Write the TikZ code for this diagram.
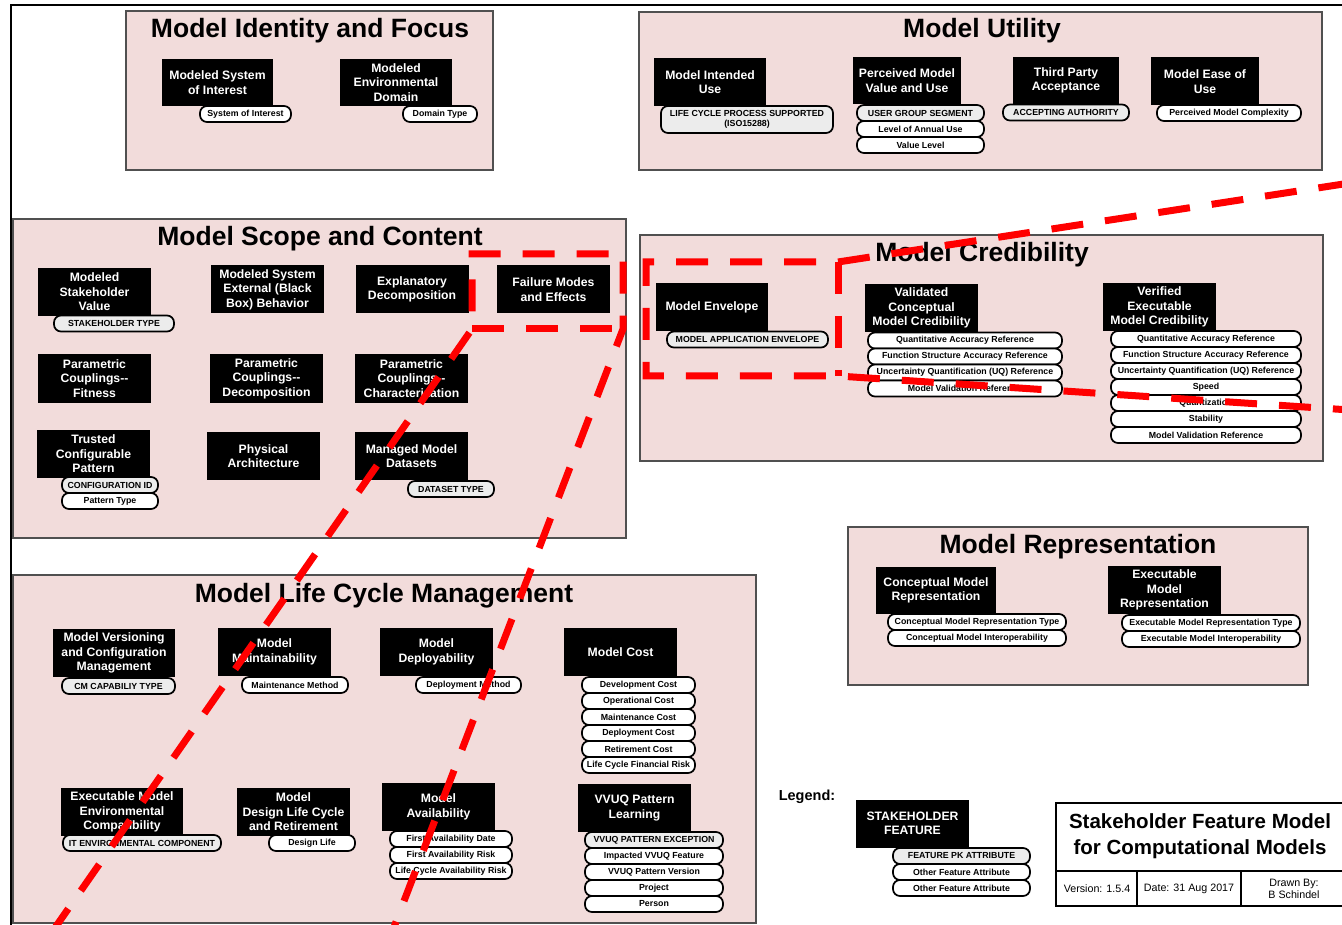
\documentclass[tikz,border=0pt]{standalone}
\usepackage{fontspec}
\setmainfont{Liberation Sans}
\usepackage{tikz}
\usepackage{color}

\definecolor{panelpink}{RGB}{242,220,219}
\definecolor{panelline}{RGB}{80,80,80}
\definecolor{pkgray}{RGB}{236,236,236}

\begin{document}
\begin{tikzpicture}[x=1pt,y=-1pt,
  panel/.style={fill=panelpink,draw=panelline,line width=1.1pt},
  ptitle/.style={font=\bfseries\fontsize{26.5}{28}\selectfont,inner sep=0pt},
  feat/.style={fill=black,text=white,align=center,inner sep=1pt,
    minimum width=113pt,minimum height=48pt,
    font=\bfseries\fontsize{12.2}{14.5}\selectfont},
  attr/.style={draw=black,fill=white,line width=1.7pt,rounded corners=7pt,
    align=center,inner xsep=2pt,inner ysep=0pt,minimum height=16pt,
    font=\bfseries\fontsize{8.8}{10}\selectfont},
  pkattr/.style={attr,fill=pkgray},
  zoomline/.style={red,line width=7pt,dash pattern=on 32pt off 22pt},
  tbtext/.style={font=\fontsize{10.7}{12}\selectfont,align=center,inner sep=0pt}]
\useasboundingbox (0,0) rectangle (1342,925);
\draw[line width=1.6pt] (11,935)--(11,5)--(1350,5);

% Model Identity and Focus
\draw[panel] (126,11) rectangle (493,170);
\node[ptitle] (tid) at (310,31) {Model Identity and Focus};
\node[feat,minimum width=111pt,minimum height=47pt] (soi) at (217.5,82.5) {Modeled System\\of Interest};
\node[attr,minimum width=91pt] (soia) at (245.5,114) {System of Interest};
\node[feat,minimum width=112pt,minimum height=47pt] (env) at (396,82.5) {Modeled\\Environmental\\Domain};
\node[attr,minimum width=74pt] (enva) at (440,114) {Domain Type};

% Model Utility
\draw[panel] (639,12) rectangle (1322,170);
\node[ptitle] (tut) at (982,31) {Model Utility};
\node[feat,minimum width=112pt] (use) at (710,82) {Model Intended\\Use};
\node[pkattr,minimum width=172pt,minimum height=27pt] (usea) at (747,119.5) {LIFE CYCLE PROCESS SUPPORTED\\(ISO15288)};
\node[feat,minimum width=108pt,minimum height=47pt] (val) at (907,80.5) {Perceived Model\\Value and Use};
\node[pkattr,minimum width=127pt] (vala) at (920.5,113) {USER GROUP SEGMENT};
\node[attr,minimum width=127pt] (valb) at (920.5,129) {Level of Annual Use};
\node[attr,minimum width=127pt] (valc) at (920.5,145) {Value Level};
\node[feat,minimum width=106pt,minimum height=47pt] (tpa) at (1066,80.5) {Third Party\\Acceptance};
\node[pkattr,minimum width=126pt] (tpaa) at (1066,112.5) {ACCEPTING AUTHORITY};
\node[feat,minimum width=108pt] (ease) at (1205,81.5) {Model Ease of\\Use};
\node[attr,minimum width=144pt] (easea) at (1229,113) {Perceived Model Complexity};

% Model Scope and Content
\draw[panel] (13,219) rectangle (626,538);
\node[ptitle] (tsc) at (320,239) {Model Scope and Content};
\node[feat] (msv) at (94.5,292) {Modeled\\Stakeholder\\Value};
\node[pkattr,minimum width=120pt] (msva) at (114,323.5) {STAKEHOLDER TYPE};
\node[feat] (ext) at (267.5,289.5) {Modeled System\\External (Black\\Box) Behavior};
\node[feat] (expl) at (412,289.5) {Explanatory\\Decomposition};
\node[feat] (fme) at (553.5,289.5) {Failure Modes\\and Effects};
\node[feat] (pcf) at (94.5,378.5) {Parametric\\Couplings-{}-\\Fitness};
\node[feat] (pcd) at (266.5,378.5) {Parametric\\Couplings-{}-\\Decomposition};
\node[feat] (pcc) at (411.5,378.5) {Parametric\\Couplings-{}-\\Characterization};
\node[feat] (tcp) at (93.5,454) {Trusted\\Configurable\\Pattern};
\node[pkattr,minimum width=96pt] (tcpa) at (110,485) {CONFIGURATION ID};
\node[attr,minimum width=96pt] (tcpb) at (110,501) {Pattern Type};
\node[feat] (phy) at (263.5,456) {Physical\\Architecture};
\node[feat] (mmd) at (411.5,456) {Managed Model\\Datasets};
\node[pkattr,minimum width=86pt] (mmda) at (451,489) {DATASET TYPE};

% Model Credibility
\draw[panel] (640,235) rectangle (1323,461);
\node[ptitle] (tcr) at (982,255) {Model Credibility};
\node[feat,minimum width=112pt] (menv) at (712,307) {Model Envelope};
\node[pkattr,minimum width=161pt] (menva) at (747.5,339.5) {MODEL APPLICATION ENVELOPE};
\node[feat] (vcm) at (921.5,308) {Validated\\Conceptual\\Model Credibility};
\node[attr,minimum width=194pt] (vcma) at (965,340.5) {Quantitative Accuracy Reference};
\node[attr,minimum width=194pt] (vcmb) at (965,356.5) {Function Structure Accuracy Reference};
\node[attr,minimum width=194pt] (vcmc) at (965,372.5) {Uncertainty Quantification (UQ) Reference};
\node[attr,minimum width=194pt] (vcmd) at (965,388.5) {Model Validation Reference};
\node[feat] (vem) at (1159.5,307) {Verified\\Executable\\Model Credibility};
\node[attr,minimum width=190pt] (vema) at (1206,339) {Quantitative Accuracy Reference};
\node[attr,minimum width=190pt] (vemb) at (1206,355) {Function Structure Accuracy Reference};
\node[attr,minimum width=190pt] (vemc) at (1206,371) {Uncertainty Quantification (UQ) Reference};
\node[attr,minimum width=190pt] (vemd) at (1206,387) {Speed};
\node[attr,minimum width=190pt] (veme) at (1206,403) {Quantization};
\node[attr,minimum width=190pt] (vemf) at (1206,419) {Stability};
\node[attr,minimum width=190pt] (vemg) at (1206,435) {Model Validation Reference};

% Model Representation
\draw[panel] (848,527) rectangle (1308,685);
\node[ptitle] (trep) at (1078,547) {Model Representation};
\node[feat,minimum width=120pt,minimum height=47pt] (cmr) at (936,590.5) {Conceptual Model\\Representation};
\node[attr,minimum width=178pt] (cmra) at (977,622) {Conceptual Model Representation Type};
\node[attr,minimum width=178pt] (cmrb) at (977,638) {Conceptual Model Interoperability};
\node[feat] (emr) at (1164.5,590) {Executable\\Model\\Representation};
\node[attr,minimum width=178pt] (emra) at (1211,623) {Executable Model Representation Type};
\node[attr,minimum width=178pt] (emrb) at (1211,639) {Executable Model Interoperability};

% Model Life Cycle Management
\draw[panel] (13,575) rectangle (756,923);
\node[ptitle] (tlc) at (384,596) {Model Life Cycle Management};
\node[feat,minimum width=122pt] (mvc) at (114,653) {Model Versioning\\and Configuration\\Management};
\node[pkattr,minimum width=113pt] (mvca) at (118.5,686) {CM CAPABILIY TYPE};
\node[feat] (mmt) at (274.5,652) {Model\\Maintainability};
\node[attr,minimum width=106pt] (mmta) at (295,685) {Maintenance Method};
\node[feat] (mdp) at (436.5,652) {Model\\Deployability};
\node[attr,minimum width=105pt] (mdpa) at (468.5,685) {Deployment Method};
\node[feat] (mco) at (620.5,652) {Model Cost};
\node[attr,minimum width=113pt] (mcoa) at (638.5,685) {Development Cost};
\node[attr,minimum width=113pt] (mcob) at (638.5,701) {Operational Cost};
\node[attr,minimum width=113pt] (mcoc) at (638.5,717) {Maintenance Cost};
\node[attr,minimum width=113pt] (mcod) at (638.5,733) {Deployment Cost};
\node[attr,minimum width=113pt] (mcoe) at (638.5,749) {Retirement Cost};
\node[attr,minimum width=113pt] (mcof) at (638.5,765) {Life Cycle Financial Risk};
\node[feat,minimum width=122pt] (eec) at (122,812) {Executable Model\\Environmental\\Compatibility};
\node[pkattr,minimum width=158pt] (eeca) at (142,843) {IT ENVIRONMENTAL COMPONENT};
\node[feat] (dlc) at (293.5,812) {Model\\Design Life Cycle\\and Retirement};
\node[attr,minimum width=86pt] (dlca) at (312,843) {Design Life};
\node[feat] (mav) at (438.5,807) {Model\\Availability};
\node[attr,minimum width=122pt] (mava) at (451,839) {First Availability Date};
\node[attr,minimum width=122pt] (mavb) at (451,855) {First Availability Risk};
\node[attr,minimum width=122pt] (mavc) at (451,871) {Life Cycle Availability Risk};
\node[feat] (vvl) at (634.5,808) {VVUQ Pattern\\Learning};
\node[pkattr,minimum width=138pt] (vvla) at (654,840) {VVUQ PATTERN EXCEPTION};
\node[attr,minimum width=138pt] (vvlb) at (654,856) {Impacted VVUQ Feature};
\node[attr,minimum width=138pt] (vvlc) at (654,872) {VVUQ Pattern Version};
\node[attr,minimum width=138pt] (vvld) at (654,888) {Project};
\node[attr,minimum width=138pt] (vvle) at (654,904) {Person};

% legend
\node[font=\bfseries\fontsize{14.5}{16}\selectfont,inner sep=0pt] (leg) at (807,797) {Legend:};
\node[feat] (lgf) at (912.5,823.5) {STAKEHOLDER\\FEATURE};
\node[pkattr,minimum width=137pt] (lgfa) at (961.5,856) {FEATURE PK ATTRIBUTE};
\node[attr,minimum width=137pt] (lgfb) at (961.5,872) {Other Feature Attribute};
\node[attr,minimum width=137pt] (lgfc) at (961.5,888) {Other Feature Attribute};

% title block
\draw[line width=1.5pt] (1056,803) rectangle (1350,906);
\draw[line width=1.2pt] (1056,871)--(1350,871);
\draw[line width=1.2pt] (1137,871)--(1137,906);
\draw[line width=1.2pt] (1241,871)--(1241,906);
\node[font=\bfseries\fontsize{20.5}{26}\selectfont,align=center,inner sep=0pt] (ttl) at (1200,836) {Stakeholder Feature Model\\for Computational Models};
\node[tbtext] (ver) at (1097,889) {Version: 1.5.4};
\node[tbtext] (dat) at (1189,889) {Date: 31 Aug 2017};
\node[tbtext] (drw) at (1294,888.5) {Drawn By:\\B Schindel};

% red callouts
\draw[zoomline] (472,329)--(623,329);
\draw[zoomline] (50,935)--(472,329)--(472,254)--(623,254)--(623,329)--(391,935);
\draw[zoomline] (838,262)--(838,376);
\draw[zoomline] (1350,183)--(838,262)--(646,262)--(646,376)--(838,376)--(1350,410);
\end{tikzpicture}
\end{document}
